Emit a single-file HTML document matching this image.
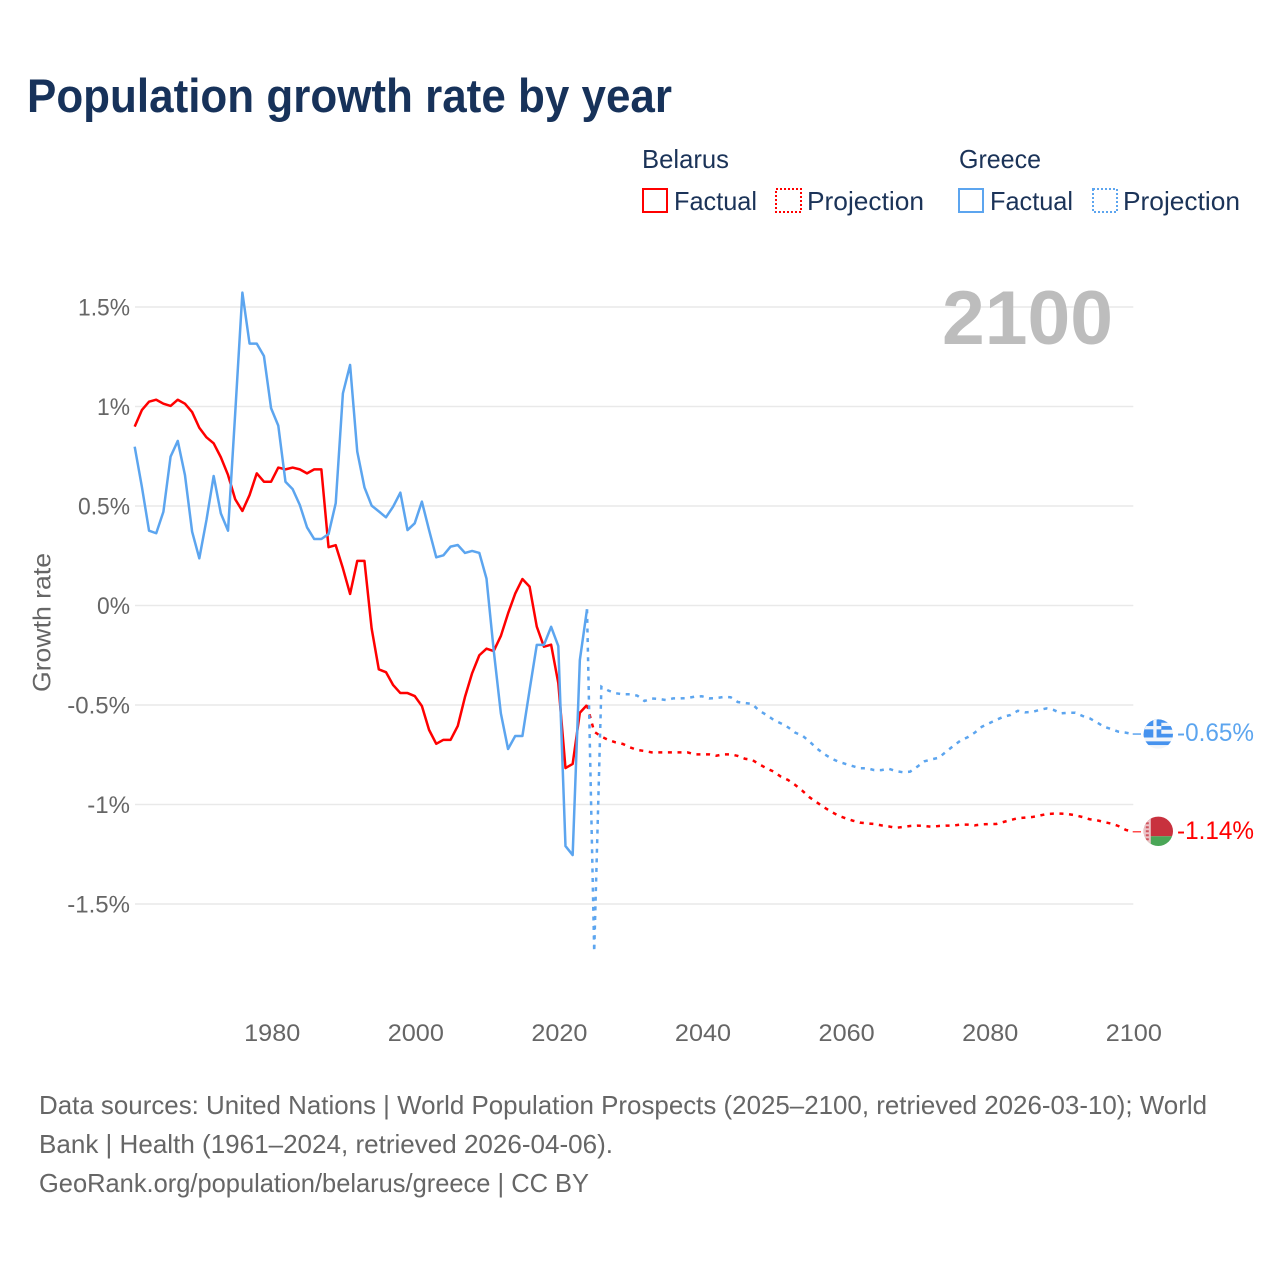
<!DOCTYPE html>
<html lang="en">
<head>
<meta charset="utf-8">
<title>Population growth rate by year</title>
<style>
html,body{margin:0;padding:0;background:#fff;}
svg{display:block;font-family:"Liberation Sans",sans-serif;}
</style>
</head>
<body>
<svg id="chart" xmlns="http://www.w3.org/2000/svg" width="1280" height="1280" viewBox="0 0 1280 1280">
  <defs>
    <clipPath id="clip-gr"><circle cx="0" cy="0" r="14.7"/></clipPath>
    <clipPath id="clip-by"><circle cx="0" cy="0" r="14.7"/></clipPath>
  </defs>
  <rect width="1280" height="1280" fill="#fff"/>
  <text x="27" y="112" font-size="47" font-weight="700" fill="#17325a" textLength="645" lengthAdjust="spacingAndGlyphs">Population growth rate by year</text>

  <g font-size="26" fill="#1b3358">
    <text x="642" y="168" textLength="87" lengthAdjust="spacingAndGlyphs">Belarus</text>
    <rect x="643" y="189" width="24" height="23" fill="none" stroke="#ff0000" stroke-width="2"/>
    <text x="674" y="210" textLength="83" lengthAdjust="spacingAndGlyphs">Factual</text>
    <rect x="776" y="189" width="25" height="23" fill="none" stroke="#ff0000" stroke-width="2" stroke-dasharray="2 2"/>
    <text x="807" y="210" textLength="117" lengthAdjust="spacingAndGlyphs">Projection</text>
    <text x="959" y="168" textLength="82" lengthAdjust="spacingAndGlyphs">Greece</text>
    <rect x="959" y="189" width="24" height="23" fill="none" stroke="#5ca5ef" stroke-width="2"/>
    <text x="990" y="210" textLength="83" lengthAdjust="spacingAndGlyphs">Factual</text>
    <rect x="1093" y="189" width="24" height="23" fill="none" stroke="#5ca5ef" stroke-width="2" stroke-dasharray="2 2"/>
    <text x="1123" y="210" textLength="117" lengthAdjust="spacingAndGlyphs">Projection</text>
  </g>

  <g id="grid"></g>
  <g id="yticks"></g>
  <g id="xticks"></g>
  <text transform="translate(50.5,622.5) rotate(-90)" text-anchor="middle" font-size="25" fill="#666" textLength="139" lengthAdjust="spacingAndGlyphs">Growth rate</text>
  <text x="1113" y="344" text-anchor="end" font-size="76" font-weight="700" fill="#bdbdbd" textLength="171" lengthAdjust="spacingAndGlyphs">2100</text>

  <g id="series"></g>
  <g id="ends"></g>

  <g font-size="26" fill="#666">
    <text x="39" y="1114" textLength="1168" lengthAdjust="spacingAndGlyphs">Data sources: United Nations | World Population Prospects (2025–2100, retrieved 2026-03-10); World</text>
    <text x="39" y="1153" textLength="574" lengthAdjust="spacingAndGlyphs">Bank | Health (1961–2024, retrieved 2026-04-06).</text>
    <text x="39" y="1192" textLength="550" lengthAdjust="spacingAndGlyphs">GeoRank.org/population/belarus/greece | CC BY</text>
  </g>
</svg>
<script>
var xTickYears = [1980, 2000, 2020, 2040, 2060, 2080, 2100];
var yTickValues = [1.5, 1, 0.5, 0, -0.5, -1, -1.5];
var yTickLabels = ['1.5%', '1%', '0.5%', '0%', '-0.5%', '-1%', '-1.5%'];
var factualStartYear = 1961;
var projectionStartYear = 2024;
var belarusFactual = [
  0.899,0.982,1.024,1.034,1.014,1.003,1.034,1.014,0.972,0.893,
  0.845,0.815,0.745,0.656,0.534,0.475,0.555,0.664,0.622,0.622,
  0.693,0.684,0.693,0.684,0.664,0.684,0.684,0.293,0.303,0.187,
  0.058,0.224,0.224,-0.115,-0.321,-0.335,-0.40,-0.44,-0.44,-0.455,
  -0.505,-0.625,-0.695,-0.675,-0.675,-0.605,-0.46,-0.34,-0.25,-0.217,
  -0.229,-0.153,-0.04,0.06,0.133,0.095,-0.106,-0.207,-0.197,-0.39,
  -0.817,-0.796,-0.539,-0.50
];
var greeceFactual = [
  0.798,0.597,0.376,0.363,0.471,0.748,0.827,0.656,0.371,0.237,
  0.430,0.651,0.463,0.376,0.966,1.572,1.316,1.316,1.254,0.991,
  0.904,0.622,0.585,0.505,0.393,0.334,0.334,0.359,0.514,1.066,
  1.209,0.773,0.594,0.502,0.473,0.443,0.497,0.567,0.379,0.413,
  0.522,0.379,0.242,0.252,0.296,0.304,0.264,0.274,0.264,0.135,
  -0.224,-0.542,-0.721,-0.656,-0.656,-0.425,-0.198,-0.198,-0.107,-0.204,
  -1.209,-1.254,-0.274,-0.019
];
var belarusProjection = [
  -0.50,-0.634,-0.659,-0.676,-0.688,-0.696,-0.713,-0.726,-0.731,-0.738,
  -0.738,-0.738,-0.738,-0.738,-0.738,-0.748,-0.748,-0.748,-0.755,-0.748,
  -0.748,-0.756,-0.770,-0.776,-0.798,-0.818,-0.835,-0.860,-0.877,-0.902,
  -0.931,-0.964,-0.989,-1.014,-1.036,-1.056,-1.069,-1.081,-1.091,-1.095,
  -1.098,-1.105,-1.110,-1.117,-1.113,-1.108,-1.106,-1.108,-1.112,-1.108,
  -1.106,-1.106,-1.101,-1.101,-1.105,-1.100,-1.098,-1.098,-1.088,-1.078,
  -1.069,-1.066,-1.063,-1.056,-1.048,-1.046,-1.046,-1.048,-1.054,-1.063,
  -1.074,-1.079,-1.088,-1.096,-1.108,-1.127,-1.137
];
var greeceProjection = [
  -0.019,-1.74,-0.408,-0.428,-0.441,-0.446,-0.446,-0.453,-0.480,-0.467,
  -0.470,-0.475,-0.467,-0.467,-0.465,-0.458,-0.456,-0.467,-0.465,-0.460,
  -0.461,-0.485,-0.490,-0.495,-0.529,-0.550,-0.575,-0.592,-0.612,-0.639,
  -0.654,-0.684,-0.718,-0.746,-0.768,-0.785,-0.796,-0.807,-0.818,-0.818,
  -0.827,-0.827,-0.82,-0.832,-0.838,-0.835,-0.810,-0.783,-0.773,-0.765,
  -0.735,-0.706,-0.679,-0.662,-0.639,-0.609,-0.592,-0.575,-0.559,-0.550,
  -0.529,-0.537,-0.535,-0.525,-0.517,-0.525,-0.542,-0.539,-0.539,-0.555,
  -0.567,-0.587,-0.609,-0.621,-0.634,-0.639,-0.646
];
var belarusEndLabel = '-1.14%';
var greeceEndLabel = '-0.65%';

var NS = 'http://www.w3.org/2000/svg';
var RED = '#ff0000', BLUE = '#5ca5ef';
function xScale(year) { return 1132.7 + (year - 2100) * 7.18; }
function yScale(v) { return 605.5 - v * 199; }
function make(tag, parent, attrs) {
  var el = document.createElementNS(NS, tag);
  for (var k in attrs) el.setAttribute(k, attrs[k]);
  parent.appendChild(el);
  return el;
}
function pathFor(values, startYear) {
  return values.map(function (v, i) {
    return (i ? 'L' : 'M') + xScale(startYear + i).toFixed(2) + ' ' + yScale(v).toFixed(2);
  }).join('');
}
function squeeze(el, factor) {
  el.setAttribute('textLength', (el.getComputedTextLength() * factor).toFixed(1));
  el.setAttribute('lengthAdjust', 'spacingAndGlyphs');
}

var gridG = document.getElementById('grid');
var yG = document.getElementById('yticks');
yTickValues.forEach(function (v, i) {
  var line = make('line', gridG, { x1: 135, x2: 1133.3, y1: yScale(v), y2: yScale(v), stroke: '#e9e9e9', 'stroke-width': 1.5 });
  
  
  var t = make('text', yG, { x: 130, y: yScale(v) + 8.5, 'text-anchor': 'end', 'font-size': 24, fill: '#666' });
  
  
  t.textContent = yTickLabels[i];
  squeeze(t, v < 0 ? 1 : 0.95);
});
var xG = document.getElementById('xticks');
xTickYears.forEach(function (yr) {
  var t = make('text', xG, { x: xScale(yr) + 1.1, y: 1041, 'text-anchor': 'middle', 'font-size': 24, fill: '#666' });
  
  
  t.textContent = yr;
  squeeze(t, 1.05);
});

var sG = document.getElementById('series');
var belarusFactualLine = make('path', sG, { d: pathFor(belarusFactual, factualStartYear), fill: 'none', stroke: RED, 'stroke-width': 2.5, 'stroke-linejoin': 'round' });


var belarusProjectionLine = make('path', sG, { d: pathFor(belarusProjection, projectionStartYear), fill: 'none', stroke: RED, 'stroke-width': 2.5, 'stroke-dasharray': '4 5.6' });


var greeceFactualLine = make('path', sG, { d: pathFor(greeceFactual, factualStartYear), fill: 'none', stroke: BLUE, 'stroke-width': 2.5, 'stroke-linejoin': 'round' });


var greeceProjectionLine = make('path', sG, { d: pathFor(greeceProjection, projectionStartYear), fill: 'none', stroke: BLUE, 'stroke-width': 2.5, 'stroke-dasharray': '4 5.6' });



var eG = document.getElementById('ends');
var x2100 = xScale(2100);
var flagX = 1158.3, labelX = 1177;

// Greece end marker
var grY = yScale(greeceProjection[greeceProjection.length - 1]);
var grConn = make('line', eG, { x1: x2100, x2: 1141, y1: grY, y2: grY, stroke: BLUE, 'stroke-width': 1.5 });


var grFlag = make('g', eG, { transform: 'translate(' + flagX + ',' + grY + ')', 'clip-path': 'url(#clip-gr)' });


make('rect', grFlag, { x: -15, y: -15, width: 30, height: 30, fill: '#f1f5fa' });
[-15, -8, -0.3, 7.3].forEach(function (sy) {
  make('rect', grFlag, { x: -15, y: sy, width: 30, height: 3.7, fill: '#4592ee' });
});
make('rect', grFlag, { x: -15, y: -15, width: 18, height: 18.4, fill: '#4592ee' });
make('rect', grFlag, { x: -15, y: -8, width: 18, height: 3.3, fill: '#f1f5fa' });
make('rect', grFlag, { x: -5, y: -15, width: 3.3, height: 18.4, fill: '#f1f5fa' });
var grText = make('text', eG, { x: labelX, y: grY + 7, 'font-size': 25, fill: BLUE });


grText.textContent = greeceEndLabel;
grText.setAttribute('textLength', 77);
grText.setAttribute('lengthAdjust', 'spacingAndGlyphs');

// Belarus end marker
var byY = yScale(belarusProjection[belarusProjection.length - 1]);
var byConn = make('line', eG, { x1: x2100, x2: 1141, y1: byY, y2: byY, stroke: RED, 'stroke-width': 1.5, opacity: 0.7 });


var byFlag = make('g', eG, { transform: 'translate(' + flagX + ',' + (byY - 0.5) + ')', 'clip-path': 'url(#clip-by)' });


make('rect', byFlag, { x: -15, y: -15, width: 30, height: 20, fill: '#c8313e' });
make('rect', byFlag, { x: -15, y: 5, width: 30, height: 10, fill: '#4aa657' });
make('rect', byFlag, { x: -15, y: -15, width: 7.5, height: 30, fill: '#ecc4c8' });
[-13, -9, -5, -1, 3, 7, 11].forEach(function (oy) {
  make('rect', byFlag, { x: -12.5, y: oy, width: 3, height: 2, fill: '#d0555f' });
});
var byText = make('text', eG, { x: labelX, y: byY + 7, 'font-size': 25, fill: RED });


byText.textContent = belarusEndLabel;
byText.setAttribute('textLength', 77);
byText.setAttribute('lengthAdjust', 'spacingAndGlyphs');
</script>
</body>
</html>
